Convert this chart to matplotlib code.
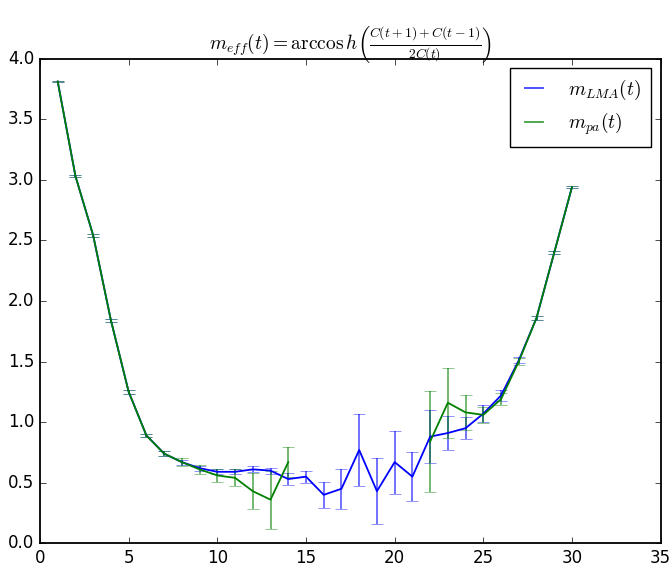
import numpy as np
import matplotlib
matplotlib.use('Agg')
from matplotlib import pyplot as plt

t = np.arange(1, 31)

m_lma = [3.81, 3.03, 2.54, 1.84, 1.25, 0.89, 0.74, 0.67, 0.62, 0.59,
         0.59, 0.61, 0.60, 0.53, 0.55, 0.40, 0.45, 0.77, 0.43, 0.67,
         0.55, 0.88, 0.91, 0.95, 1.07, 1.22, 1.51, 1.86, 2.40, 2.94]
m_lma_err = [0.005, 0.008, 0.01, 0.012, 0.015, 0.015, 0.02, 0.02, 0.02, 0.02,
             0.02, 0.025, 0.025, 0.05, 0.05, 0.105, 0.165, 0.30, 0.27, 0.26,
             0.205, 0.22, 0.14, 0.09, 0.07, 0.045, 0.025, 0.015, 0.012, 0.01]

nan = np.nan
m_pa = [3.81, 3.03, 2.54, 1.84, 1.25, 0.89, 0.74, 0.67, 0.61, 0.56,
        0.54, 0.43, 0.36, 0.67, nan, nan, nan, nan, nan, nan,
        nan, 0.84, 1.16, 1.08, 1.06, 1.19, 1.50, 1.86, 2.40, 2.94]
m_pa_err = [0.005, 0.008, 0.01, 0.012, 0.015, 0.015, 0.02, 0.03, 0.04, 0.055,
            0.07, 0.15, 0.24, 0.125, nan, nan, nan, nan, nan, nan,
            nan, 0.42, 0.29, 0.145, 0.065, 0.05, 0.025, 0.015, 0.012, 0.01]

plt.style.use('classic')
plt.rcParams['mathtext.fontset'] = 'cm'

fig = plt.figure(figsize=(6.71, 5.63), dpi=100)
fig.patch.set_facecolor('white')
ax = fig.add_axes([0.0596, 0.035, 0.925, 0.861])

lignes = []
for vals, errs, col in [(m_lma, m_lma_err, 'b'), (m_pa, m_pa_err, 'g')]:
    line, caps, bars = ax.errorbar(t, vals, yerr=errs, color=col, capsize=4, lw=1.3)
    for c in caps:
        c.set_alpha(0.6)
    for b in bars:
        b.set_alpha(0.6)
    lignes.append(line)

for s in ax.spines.values():
    s.set_linewidth(1.3)

ax.set_xlim(0, 35)
ax.set_ylim(0, 4)
ax.set_title(r'$m_{eff}(t) = \arccos h\left(\frac{C(t+1)+C(t-1)}{2C(t)}\right)$',
             fontsize=14, y=1.005)
leg = ax.legend(lignes, [r'$m_{LMA}(t)$', r'$m_{pa}(t)$'], loc='upper right',
                fontsize=14, handlelength=1.5, handletextpad=1.0,
                borderpad=0.5, labelspacing=0.45)
for h in leg.get_lines():
    h.set_alpha(0.75)

fig.savefig('out.png', dpi=100, facecolor='white')
